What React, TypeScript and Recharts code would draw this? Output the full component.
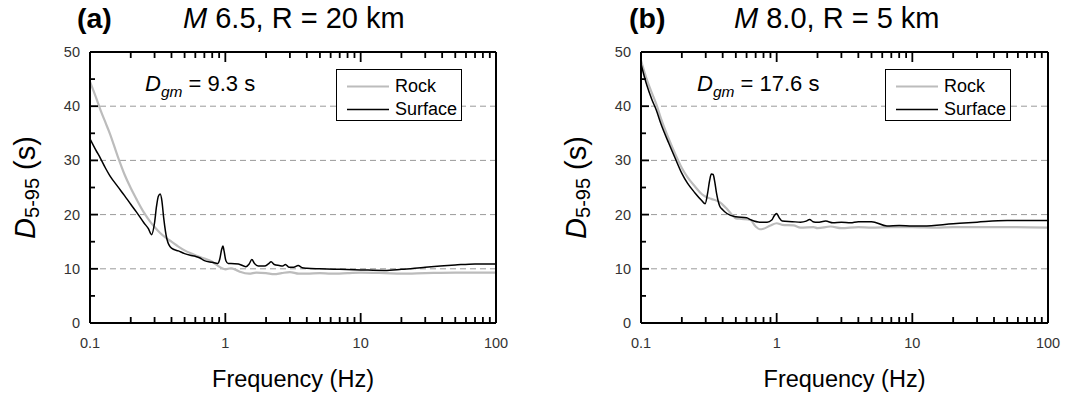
import React from 'react';
import { LineChart, Line, XAxis, YAxis, ReferenceLine, Legend } from 'recharts';

const FONT = '"Liberation Sans", Arial, Helvetica, sans-serif';

// log frequency axis: decades get labels, the rest are minor ticks
const freqTicks = [
  0.1, 0.2, 0.3, 0.4, 0.5, 0.6, 0.7, 0.8, 0.9,
  1, 2, 3, 4, 5, 6, 7, 8, 9,
  10, 20, 30, 40, 50, 60, 70, 80, 90, 100,
];
const freqLabels = [0.1, 1, 10, 100];
const durTicks = [0, 5, 10, 15, 20, 25, 30, 35, 40, 45, 50];
const durLabels = [0, 10, 20, 30, 40, 50];
const gridLevels = [10, 20, 30, 40];

// (a) M 6.5, R = 20 km
const rockFreqA = [
  0.1, 0.11, 0.12, 0.13, 0.14, 0.16, 0.18, 0.2, 0.22, 0.25, 0.28, 0.3, 0.33, 0.36,
  0.4, 0.45, 0.5, 0.55, 0.6, 0.7, 0.8, 0.9, 1.0, 1.1, 1.2, 1.3, 1.5, 1.7, 2.0,
  2.3, 2.6, 3.0, 3.5, 4, 5, 6, 8, 10, 15, 20, 30, 50, 100,
];
const rockDurA = [
  44.5, 41.8, 39.2, 37.0, 35.0, 30.8, 27.4, 24.9, 22.9, 20.4, 18.6, 17.7, 16.6, 15.8,
  15.0, 14.1, 13.4, 12.9, 12.5, 11.9, 11.3, 10.4, 9.9, 10.1, 9.8, 9.4, 9.1, 9.3, 9.2,
  9.0, 9.2, 9.4, 9.1, 9.1, 9.2, 9.1, 9.2, 9.3, 9.2, 9.1, 9.2, 9.3, 9.3,
];
const surfFreqA = [
  0.1, 0.11, 0.12, 0.13, 0.14, 0.16, 0.18, 0.2, 0.22, 0.25, 0.27, 0.285, 0.3, 0.31,
  0.32, 0.33, 0.34, 0.35, 0.37, 0.4, 0.45, 0.5, 0.55, 0.6, 0.65, 0.7, 0.8, 0.88,
  0.91, 0.94, 0.96, 0.98, 1.01, 1.05, 1.1, 1.25, 1.42, 1.5, 1.57, 1.64, 1.75, 1.95,
  2.08, 2.18, 2.3, 2.5, 2.65, 2.78, 2.95, 3.2, 3.45, 3.7, 4, 5, 7, 10, 15, 20, 30,
  50, 70, 100,
];
const surfDurA = [
  34.0, 32.0, 30.3, 28.6, 27.2, 25.2, 23.5, 21.9, 20.5, 18.5, 17.4, 16.3, 18.5, 21.5,
  23.4, 23.8, 22.5, 19.5, 15.5, 13.8, 13.3, 12.8, 12.5, 12.3, 12.0, 11.5, 11.2, 11.0,
  11.8, 13.6, 14.2, 13.2, 11.5, 11.0, 11.0, 10.9, 10.4, 10.9, 11.7, 11.0, 10.5, 10.5,
  10.9, 11.3, 10.8, 10.6, 10.5, 10.8, 10.3, 10.3, 10.6, 10.2, 10.1, 10.0, 9.9, 9.8, 9.7, 9.9, 10.3,
  10.7, 10.9, 10.9,
];

// (b) M 8.0, R = 5 km
const rockFreqB = [
  0.1, 0.11, 0.12, 0.13, 0.14, 0.16, 0.18, 0.2, 0.22, 0.25, 0.28, 0.3, 0.33, 0.38,
  0.42, 0.45, 0.5, 0.55, 0.64, 0.7, 0.75, 0.8, 0.9, 1.0, 1.1, 1.33, 1.5, 1.87, 2.0,
  2.5, 3, 4, 5, 7, 10, 15, 20, 30, 50, 100,
];
const rockDurB = [
  48.4, 45.0, 42.5, 40.3, 37.8, 34.0, 31.0, 28.6, 26.9, 25.2, 23.8, 23.3, 22.9, 22.3,
  21.3, 20.5, 19.3, 19.2, 19.0, 17.8, 17.3, 17.4, 18.0, 18.4, 18.1, 18.0, 17.6, 17.7, 17.5,
  17.8, 17.5, 17.7, 17.6, 17.7, 17.7, 17.6, 17.7, 17.7, 17.7, 17.6,
];
const surfFreqB = [
  0.1, 0.11, 0.12, 0.13, 0.14, 0.16, 0.18, 0.2, 0.22, 0.25, 0.28, 0.297, 0.31, 0.32,
  0.33, 0.34, 0.35, 0.36, 0.38, 0.4, 0.43, 0.5, 0.6, 0.65, 0.75, 0.85, 0.92, 0.96,
  1.0, 1.04, 1.1, 1.3, 1.5, 1.65, 1.75, 1.85, 2.0, 2.3, 2.6, 3.0, 3.5, 4, 5, 6.5, 8,
  10, 12, 20, 30, 50, 100,
];
const surfDurB = [
  47.8, 44.0, 41.3, 39.2, 36.8, 33.2, 30.2, 27.6, 25.8, 24.0, 22.6, 22.0, 24.0, 26.2,
  27.5, 27.4, 26.0, 24.0, 21.6, 20.9, 20.2, 19.6, 19.4, 19.0, 18.6, 18.6, 19.0, 19.8,
  20.2, 19.5, 18.8, 18.7, 18.6, 18.8, 19.1, 18.7, 18.6, 18.8, 18.5, 18.6, 18.5, 18.7, 18.7, 17.9, 18.0,
  17.9, 17.9, 18.3, 18.6, 18.9, 18.9,
];

const toPoints = (freq: number[], dur: number[]) => freq.map((f, i) => ({ freq: f, dur: dur[i] }));

const AXIS = { stroke: '#000', strokeWidth: 2 };
const TICK_COLOR = '#000';
const TICK_W = 1.8;
const CHART_H = 398;
const PLOT_TOP = 52;
const PLOT_BOTTOM = 323;
// axes need a non-zero box to be drawn; this thin strip is taken out of the margins
const AXIS_BOX = 1;

const BottomTick = ({ x, y, payload }: any) => {
  const major = freqLabels.includes(payload.value);
  return (
    <g>
      <path d={`M${x},${y}V${y - (major ? 10 : 6)}`} stroke={TICK_COLOR} strokeWidth={TICK_W} fill="none" />
      {major && (
        <text x={x} y={y + 25} textAnchor="middle" fontFamily={FONT} fontSize={14.5} fill="#333">
          {payload.value}
        </text>
      )}
    </g>
  );
};

const TopTick = ({ x, y, payload }: any) => {
  const major = freqLabels.includes(payload.value);
  return (
    <g>
      <path d={`M${x},${y}V${y + (major ? 10 : 6)}`} stroke={TICK_COLOR} strokeWidth={TICK_W} fill="none" />
    </g>
  );
};

const LeftTick = ({ x, y, payload }: any) => {
  const major = durLabels.includes(payload.value);
  return (
    <g>
      <path d={`M${x},${y}H${x + (major ? 8 : 5)}`} stroke={TICK_COLOR} strokeWidth={TICK_W} fill="none" />
      {major && (
        <text x={x - 10} y={y} dy="0.35em" textAnchor="end" fontFamily={FONT} fontSize={14.5} fill="#333">
          {payload.value}
        </text>
      )}
    </g>
  );
};

const RightTick = ({ x, y, payload }: any) => {
  const major = durLabels.includes(payload.value);
  return (
    <g>
      <path d={`M${x},${y}H${x - (major ? 8 : 5)}`} stroke={TICK_COLOR} strokeWidth={TICK_W} fill="none" />
    </g>
  );
};

const LegendBox = ({ payload }: any) => (
  <div
    style={{
      width: '100%',
      height: '100%',
      boxSizing: 'border-box',
      border: '1px solid #000',
      background: '#fff',
      paddingTop: 5,
    }}
  >
    {(payload || []).map((e: any) => (
      <div key={e.value} style={{ display: 'flex', alignItems: 'center', height: 23 }}>
        <svg width={52} height={23} style={{ display: 'block' }}>
          <line x1={10} x2={52} y1={11.5} y2={11.5} stroke={e.color} strokeWidth={e.payload?.strokeWidth ?? 1.5} />
        </svg>
        <span style={{ marginLeft: 6, fontFamily: FONT, fontSize: 18, color: '#000', lineHeight: '23px' }}>
          {e.value}
        </span>
      </div>
    ))}
  </div>
);

interface PanelProps {
  left: number;
  width: number;
  plotLeft: number;
  plotRight: number;
  tag: string;
  tagX: number;
  mag: string;
  rest: string;
  titleX: number;
  dgm: string;
  dgmX: number;
  legendX: number;
  rock: { freq: number; dur: number }[];
  surface: { freq: number; dur: number }[];
}

function Panel(p: PanelProps) {
  const midX = (p.plotLeft + p.plotRight) / 2;
  const midY = (PLOT_TOP + PLOT_BOTTOM) / 2;
  const freqAxis = {
    type: 'number' as const,
    dataKey: 'freq',
    scale: 'log' as const,
    domain: [0.1, 100],
    allowDataOverflow: true,
    ticks: freqTicks,
    interval: 0,
    height: AXIS_BOX,
    tickSize: 0,
    tickMargin: 0,
    tickLine: false,
    axisLine: AXIS,
  };
  const durAxis = {
    type: 'number' as const,
    domain: [0, 50],
    ticks: durTicks,
    interval: 0,
    width: AXIS_BOX,
    tickSize: 0,
    tickMargin: 0,
    tickLine: false,
    axisLine: AXIS,
  };
  return (
    <div style={{ position: 'absolute', left: p.left, top: 0, width: p.width, height: CHART_H }}>
      <LineChart
        width={p.width}
        height={CHART_H}
        margin={{
          top: PLOT_TOP - AXIS_BOX,
          bottom: CHART_H - PLOT_BOTTOM - AXIS_BOX,
          left: p.plotLeft - AXIS_BOX,
          right: p.width - p.plotRight - AXIS_BOX,
        }}
      >
        <XAxis xAxisId="b" {...freqAxis} tick={BottomTick} />
        <XAxis xAxisId="t" orientation="top" {...freqAxis} tick={TopTick} />
        <YAxis yAxisId="l" {...durAxis} tick={LeftTick} />
        <YAxis yAxisId="r" orientation="right" {...durAxis} tick={RightTick} />
        {gridLevels.map((v) => (
          <ReferenceLine key={v} y={v} xAxisId="b" yAxisId="l" stroke="#9a9a9a" strokeDasharray="6 4" />
        ))}
        <Line
          xAxisId="b"
          yAxisId="l"
          data={p.rock}
          dataKey="dur"
          name="Rock"
          type="monotone"
          stroke="#bcbcbc"
          strokeWidth={2.2}
          dot={false}
          isAnimationActive={false}
        />
        <Line
          xAxisId="b"
          yAxisId="l"
          data={p.surface}
          dataKey="dur"
          name="Surface"
          type="monotone"
          stroke="#000"
          strokeWidth={1.5}
          dot={false}
          isAnimationActive={false}
        />
        <Legend
          layout="vertical"
          align="center"
          verticalAlign="middle"
          content={<LegendBox />}
          wrapperStyle={{ left: p.legendX, top: 69, width: 126, height: 52 }}
        />
      </LineChart>
      <svg
        width={p.width}
        height={CHART_H}
        style={{ position: 'absolute', left: 0, top: 0, pointerEvents: 'none' }}
        fontFamily={FONT}
        fill="#000"
      >
        <text x={p.tagX} y={28} fontSize={28.5} fontWeight="bold">
          {p.tag}
        </text>
        <text x={p.titleX} y={28} fontSize={29}>
          <tspan fontStyle="italic">{p.mag}</tspan>
          {p.rest}
        </text>
        <text x={p.dgmX} y={91} fontSize={22}>
          <tspan fontStyle="italic">D</tspan>
          <tspan fontStyle="italic" fontSize={15.5} dy={6}>
            gm
          </tspan>
          <tspan dy={-6}>{p.dgm}</tspan>
        </text>
        <text transform={`translate(${p.plotLeft - 55},${midY}) rotate(-90)`} textAnchor="middle" fontSize={29}>
          <tspan fontStyle="italic">D</tspan>
          <tspan fontSize={20} dy={4}>
            5-95
          </tspan>
          <tspan dy={-4}> (s)</tspan>
        </text>
        <text x={midX} y={387} textAnchor="middle" fontSize={23.5}>
          Frequency (Hz)
        </text>
      </svg>
    </div>
  );
}

export default function App() {
  return (
    <div style={{ position: 'absolute', left: 0, top: 0, width: 1083, height: 398, background: '#fff', overflow: 'hidden' }}>
      <Panel
        left={0}
        width={541}
        plotLeft={90}
        plotRight={496}
        tag="(a)"
        tagX={77}
        mag="M"
        rest=" 6.5, R = 20 km"
        titleX={183}
        dgm=" = 9.3 s"
        dgmX={145}
        legendX={336}
        rock={toPoints(rockFreqA, rockDurA)}
        surface={toPoints(surfFreqA, surfDurA)}
      />
      <Panel
        left={541}
        width={542}
        plotLeft={100}
        plotRight={507}
        tag="(b)"
        tagX={88}
        mag="M"
        rest=" 8.0, R = 5 km"
        titleX={193}
        dgm=" = 17.6 s"
        dgmX={156}
        legendX={344}
        rock={toPoints(rockFreqB, rockDurB)}
        surface={toPoints(surfFreqB, surfDurB)}
      />
    </div>
  );
}
